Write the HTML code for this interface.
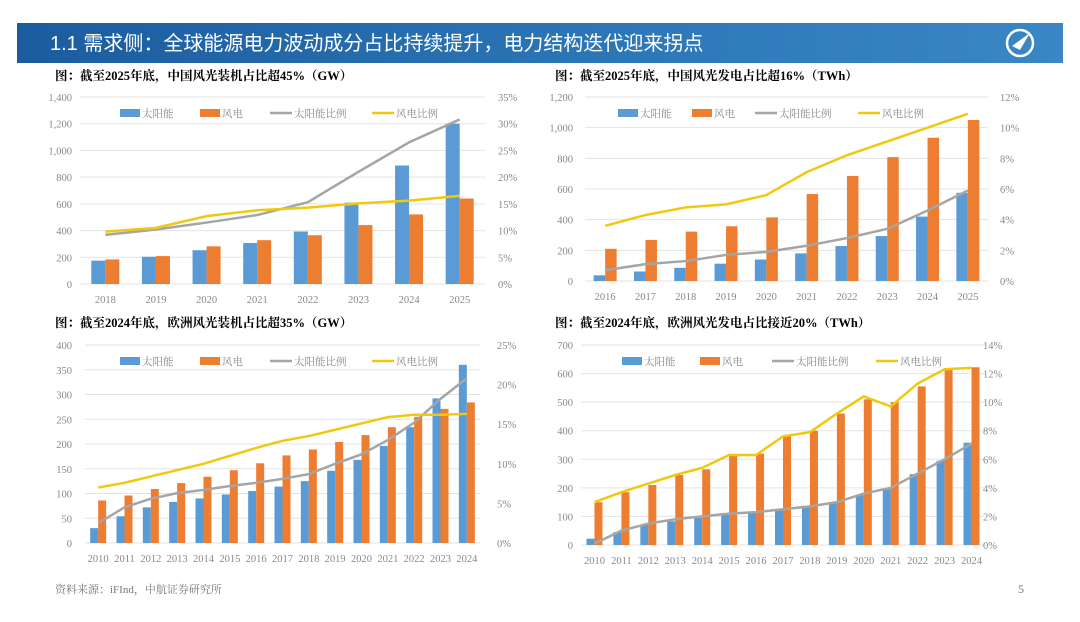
<!DOCTYPE html>
<html><head><meta charset="utf-8">
<style>
html,body{margin:0;padding:0;background:#fff;width:1080px;height:622px;overflow:hidden}
svg{display:block}
text{font-family:"Liberation Serif","Noto Serif CJK SC","Noto Sans CJK SC",serif}
</style></head>
<body>
<svg id="slide" width="1080" height="622" xmlns="http://www.w3.org/2000/svg">
<defs><linearGradient id="hg" x1="0" x2="1"><stop offset="0" stop-color="#1b5c9e"/><stop offset="0.6" stop-color="#2d78b8"/><stop offset="1" stop-color="#3b86c4"/></linearGradient></defs>
<g>
<rect x="17" y="23" width="1046" height="40" fill="url(#hg)"/>
<text x="50" y="50" fill="#fff" font-size="20" style="font-family:'Liberation Sans','Noto Sans CJK SC',sans-serif">1.1 需求侧：全球能源电力波动成分占比持续提升，电力结构迭代迎来拐点</text>
<g><circle cx="1020" cy="43" r="13" fill="none" stroke="#fff" stroke-width="2.5"/><path d="M1012 46 L1030 33 L1020 50 Z" fill="#fff"/></g>
</g>
<text x="55" y="80" font-size="12.5" font-weight="bold">图：截至2025年底，中国风光装机占比超45%（GW）</text>
<text x="555" y="80" font-size="12.5" font-weight="bold">图：截至2025年底，中国风光发电占比超16%（TWh）</text>
<text x="55" y="327" font-size="12.5" font-weight="bold">图：截至2024年底，欧洲风光装机占比超35%（GW）</text>
<text x="555" y="327" font-size="12.5" font-weight="bold">图：截至2024年底，欧洲风光发电占比接近20%（TWh）</text>
<text x="55" y="593" font-size="11" fill="#777">资料来源：iFInd，中航证券研究所</text>
<text x="1018" y="593" font-size="12" fill="#777">5</text>
</svg>
<script>
// Chart 1: China installed capacity (GW)
const c1Years=["2018","2019","2020","2021","2022","2023","2024","2025"];
const c1Solar=[175,204,253,307,393,609,887,1200];
const c1Wind=[184,209,282,328,365,441,521,640];
const c1SolarPct=[9.2,10.2,11.5,12.9,15.3,21.0,26.5,30.8];
const c1WindPct=[9.8,10.5,12.7,13.8,14.3,15.1,15.6,16.5];
const c1LeftTicks=["0","200","400","600","800","1,000","1,200","1,400"];
const c1RightTicks=["0%","5%","10%","15%","20%","25%","30%","35%"];
// Chart 2: China generation (TWh)
const c2Years=["2016","2017","2018","2019","2020","2021","2022","2023","2024","2025"];
const c2Solar=[37,62,86,113,140,180,228,293,420,575];
const c2Wind=[210,268,322,357,415,567,685,808,934,1050];
const c2SolarPct=[0.7,1.1,1.3,1.7,1.9,2.3,2.8,3.4,4.6,5.9];
const c2WindPct=[3.6,4.3,4.8,5.0,5.6,7.1,8.2,9.1,10.0,10.9];
const c2LeftTicks=["0","200","400","600","800","1,000","1,200"];
const c2RightTicks=["0%","2%","4%","6%","8%","10%","12%"];
// Chart 3: Europe installed capacity (GW)
const c3Years=["2010","2011","2012","2013","2014","2015","2016","2017","2018","2019","2020","2021","2022","2023","2024"];
const c3Solar=[30,54,72,83,90,98,105,114,125,146,168,196,234,292,360];
const c3Wind=[86,96,109,121,134,147,161,177,189,204,218,234,255,271,284];
const c3SolarPct=[2.5,4.5,5.6,6.3,6.7,7.2,7.6,8.1,8.7,10.0,11.2,13.0,15.2,18.2,20.8];
const c3WindPct=[7.0,7.6,8.4,9.2,10.0,11.0,12.0,12.9,13.5,14.3,15.1,15.9,16.2,16.2,16.3];
const c3LeftTicks=["0","50","100","150","200","250","300","350","400"];
const c3RightTicks=["0%","5%","10%","15%","20%","25%"];
// Chart 4: Europe generation (TWh)
const c4Years=["2010","2011","2012","2013","2014","2015","2016","2017","2018","2019","2020","2021","2022","2023","2024"];
const c4Solar=[22,45,70,83,95,107,113,122,135,150,175,197,248,295,358];
const c4Wind=[150,185,210,245,265,315,320,380,400,460,510,500,555,615,622];
const c4SolarPct=[0.1,1.0,1.5,1.8,2.0,2.2,2.3,2.5,2.7,3.0,3.6,4.0,5.0,6.0,7.1];
const c4WindPct=[3.0,3.7,4.3,4.9,5.4,6.3,6.3,7.6,7.9,9.2,10.4,9.7,11.3,12.3,12.4];
const c4LeftTicks=["0","100","200","300","400","500","600","700"];
const c4RightTicks=["0%","2%","4%","6%","8%","10%","12%","14%"];

const NS="http://www.w3.org/2000/svg";
const svg=document.getElementById('slide');
function mk(tag,attrs,parent,txt){const e=document.createElementNS(NS,tag);for(const k in attrs)e.setAttribute(k,attrs[k]);if(txt!==undefined)e.textContent=txt;(parent||svg).appendChild(e);return e;}
const BLUE="#5b9bd5",ORANGE="#ed7d31",GRAY="#a5a5a5",YEL="#f2c80f";

function draw(id,L,geo){
  const g=mk('g',{});
  
  
  const {x0,x1,yTop,yBot,lx,rx,xly,bw,leg}=geo;
  const lMax=parseFloat(L.lt[L.lt.length-1].replace(/,/g,''));
  const rMax=parseFloat(L.rt[L.rt.length-1]);
  const yL=v=>yBot-(v/lMax)*(yBot-yTop);
  const yR=v=>yBot-(v/rMax)*(yBot-yTop);
  const band=(x1-x0)/L.cats.length;
  const xC=i=>x0+band*(i+0.5);
  L.lt.forEach((t,i)=>{const v=parseFloat(t.replace(/,/g,''));const y=yL(v);
    const gl=mk('line',{x1:x0,x2:x1,y1:y,y2:y,stroke:'#e3e3e3','stroke-width':1},g);
    
    
    const tl=mk('text',{x:lx,y:y+4,'font-size':10.5,fill:'#888','text-anchor':'end'},g,t);
    
    
  });
  L.rt.forEach((t,i)=>{const y=yR(parseFloat(t));
    const tl=mk('text',{x:rx,y:y+4,'font-size':10.5,fill:'#888'},g,t);
    
    
  });
  L.cats.forEach((c,i)=>{
    const tl=mk('text',{x:xC(i),y:xly,'font-size':10.5,fill:'#888','text-anchor':'middle'},g,c);
    
    
    const b1=mk('rect',{x:xC(i)-bw,y:yL(L.s[i]),width:bw,height:yBot-yL(L.s[i]),fill:BLUE},g);
    
    
    const b2=mk('rect',{x:xC(i),y:yL(L.w[i]),width:bw,height:yBot-yL(L.w[i]),fill:ORANGE},g);
    
    
  });
  const l1=mk('polyline',{points:L.sp.map((v,i)=>xC(i)+','+yR(v)).join(' '),fill:'none',stroke:GRAY,'stroke-width':2.5},g);
  
  
  const l2=mk('polyline',{points:L.wp.map((v,i)=>xC(i)+','+yR(v)).join(' '),fill:'none',stroke:YEL,'stroke-width':2.5},g);
  
  
  // legend
  const [a,b,c,d,ly]=leg;
  const lg=mk('g',{},g);
  
  
  mk('rect',{x:a,y:ly-4,width:20,height:8,fill:BLUE},lg);
  mk('text',{x:a+22,y:ly+4,'font-size':10.5,fill:'#888'},lg,'太阳能');
  mk('rect',{x:b,y:ly-4,width:20,height:8,fill:ORANGE},lg);
  mk('text',{x:b+22,y:ly+4,'font-size':10.5,fill:'#888'},lg,'风电');
  mk('line',{x1:c,x2:c+22,y1:ly,y2:ly,stroke:GRAY,'stroke-width':2.5},lg);
  mk('text',{x:c+24,y:ly+4,'font-size':10.5,fill:'#888'},lg,'太阳能比例');
  mk('line',{x1:d,x2:d+22,y1:ly,y2:ly,stroke:YEL,'stroke-width':2.5},lg);
  mk('text',{x:d+24,y:ly+4,'font-size':10.5,fill:'#888'},lg,'风电比例');
}
draw('chart-china-capacity',{cats:c1Years,s:c1Solar,w:c1Wind,sp:c1SolarPct,wp:c1WindPct,lt:c1LeftTicks,rt:c1RightTicks},
 {x0:80,x1:485,yTop:97,yBot:284,lx:72,rx:498,xly:303,bw:14,leg:[120,200,270,372,113]});
draw('chart-china-generation',{cats:c2Years,s:c2Solar,w:c2Wind,sp:c2SolarPct,wp:c2WindPct,lt:c2LeftTicks,rt:c2RightTicks},
 {x0:585,x1:988,yTop:97,yBot:281,lx:573,rx:1000,xly:300,bw:11.5,leg:[618,692,755,858,113]});
draw('chart-europe-capacity',{cats:c3Years,s:c3Solar,w:c3Wind,sp:c3SolarPct,wp:c3WindPct,lt:c3LeftTicks,rt:c3RightTicks},
 {x0:85,x1:480,yTop:345,yBot:543,lx:72,rx:497,xly:562,bw:8,leg:[120,200,270,372,361]});
draw('chart-europe-generation',{cats:c4Years,s:c4Solar,w:c4Wind,sp:c4SolarPct,wp:c4WindPct,lt:c4LeftTicks,rt:c4RightTicks},
 {x0:581,x1:985,yTop:345,yBot:545,lx:573,rx:983,xly:564,bw:8,leg:[622,700,772,876,361]});
</script>
</body></html>
